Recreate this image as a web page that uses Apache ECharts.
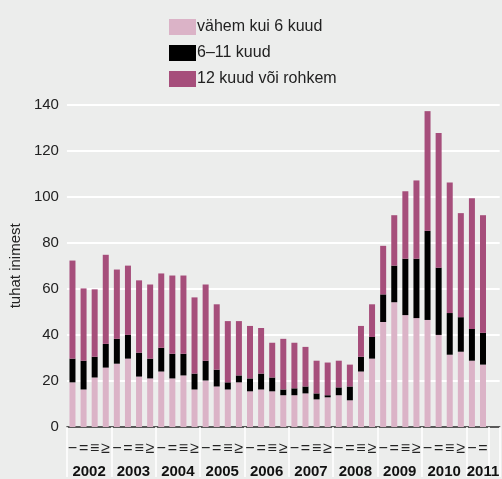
<!DOCTYPE html>
<html>
<head>
<meta charset="utf-8">
<script src="https://cdn.jsdelivr.net/npm/echarts@6/dist/echarts.min.js"></script>
<style>
  html, body { margin: 0; padding: 0; background: #ecedec; }
  #chart { width: 502px; height: 479px; }
</style>
</head>
<body>
<div id="chart"></div>
<script>
// --- data (tuhat inimest, quarterly 2002 I .. 2011 II) ---
var quarterLabels = ['\u2212', '=', '\u2261', '\u2265'];
var years = ['2002', '2003', '2004', '2005', '2006', '2007', '2008', '2009', '2010', '2011'];

var under6 = [19.4, 16.3, 21.5, 25.8, 27.5, 29.7, 21.9, 21.1, 24.1, 21.1,
              22.4, 16.3, 20.2, 17.6, 16.3, 19.4, 15.5, 16.3, 15.5, 13.8,
              13.8, 14.6, 12.0, 12.9, 13.8, 11.6, 24.1, 29.7, 45.6, 54.2,
              48.6, 47.3, 46.5, 40.0, 31.4, 32.7, 28.8, 27.1];
var m6to11 = [10.3, 12.5, 9.0, 10.3, 10.8, 10.3, 10.4, 8.6, 10.3, 10.7,
              9.4, 6.9, 8.6, 7.3, 3.1, 3.0, 5.6, 6.9, 6.0, 2.5,
              3.0, 3.0, 2.6, 0.9, 3.4, 6.0, 6.4, 9.4, 12.0, 15.9,
              24.5, 25.8, 38.7, 29.2, 18.1, 15.0, 13.8, 13.8];
var over12 = [42.6, 31.4, 29.3, 38.7, 30.1, 30.1, 31.4, 32.2, 32.3, 34.0,
              34.0, 33.1, 33.1, 28.4, 26.6, 23.6, 22.8, 19.8, 15.1, 22.0,
              19.8, 17.2, 14.2, 14.2, 11.6, 9.5, 13.4, 14.2, 21.1, 21.9,
              29.3, 34.0, 52.0, 58.5, 56.7, 45.2, 56.8, 51.1];

// categories: one per quarter, plus an empty slot so the grid runs to the edge
var categories = [];
for (var i = 0; i < under6.length; i++) {
  categories.push(quarterLabels[i % 4]);
}
categories.push('');

var font = 'Liberation Sans, Arial, sans-serif';
var myChart = echarts.init(document.getElementById('chart'));

myChart.setOption({
  backgroundColor: '#ecedec',
  textStyle: { fontFamily: font },
  legend: {
    orient: 'vertical',
    left: 164,
    top: 14,
    itemWidth: 27,
    itemHeight: 16,
    itemGap: 10,
    icon: 'rect',
    selectedMode: false,
    textStyle: { fontSize: 16, color: '#222', fontFamily: font, padding: [0, 0, 0, -4] },
    data: ['vähem kui 6 kuud', '6–11 kuud', '12 kuud või rohkem']
  },
  grid: {
    left: 60,
    right: 0,
    top: 104.7,
    bottom: 48.7
  },
  xAxis: [{
    type: 'category',
    data: categories,
    axisLine: { lineStyle: { color: '#222', width: 1.5 } },
    axisTick: {
      show: true,
      interval: 3,
      length: 50,
      lineStyle: { color: '#ffffff', width: 1.5 }
    },
    axisLabel: {
      interval: 0,
      margin: 14,
      fontSize: 16,
      color: '#222',
      fontFamily: font
    }
  }, {
    type: 'category',
    position: 'bottom',
    data: categories,
    axisLine: { show: false },
    axisTick: { show: false },
    axisLabel: {
      interval: 0,
      margin: 37,
      formatter: function (v, i) {
        if (i % 4 !== 1) return '';
        var y = years[(i - 1) / 4];
        return i === 37 ? '{b|' + y + '}' : '{a|' + y + '}';
      },
      rich: {
        a: { fontSize: 15, fontWeight: 'bold', color: '#111', fontFamily: font, padding: [0, 0, 0, 11] },
        b: { fontSize: 15, fontWeight: 'bold', color: '#111', fontFamily: font }
      }
    }
  }],
  yAxis: {
    type: 'value',
    min: 0,
    max: 140,
    interval: 20,
    name: 'tuhat inimest',
    nameLocation: 'middle',
    nameRotate: 90,
    nameGap: 30,
    nameTextStyle: { fontSize: 15, color: '#222', fontFamily: font },
    axisLine: { show: false },
    axisTick: { show: false },
    axisLabel: { fontSize: 15, color: '#222', margin: 8, fontFamily: font },
    splitLine: { lineStyle: { color: '#ffffff', width: 2 } }
  },
  series: [{
    name: 'vähem kui 6 kuud',
    type: 'bar',
    stack: 'total',
    barWidth: 6,
    itemStyle: { color: '#dbb3c7' },
    data: under6
  }, {
    name: '6–11 kuud',
    type: 'bar',
    stack: 'total',
    barWidth: 6,
    itemStyle: { color: '#000000' },
    data: m6to11
  }, {
    name: '12 kuud või rohkem',
    type: 'bar',
    stack: 'total',
    barWidth: 6,
    itemStyle: { color: '#a64e7b' },
    data: over12
  }]
});
</script>
</body>
</html>
